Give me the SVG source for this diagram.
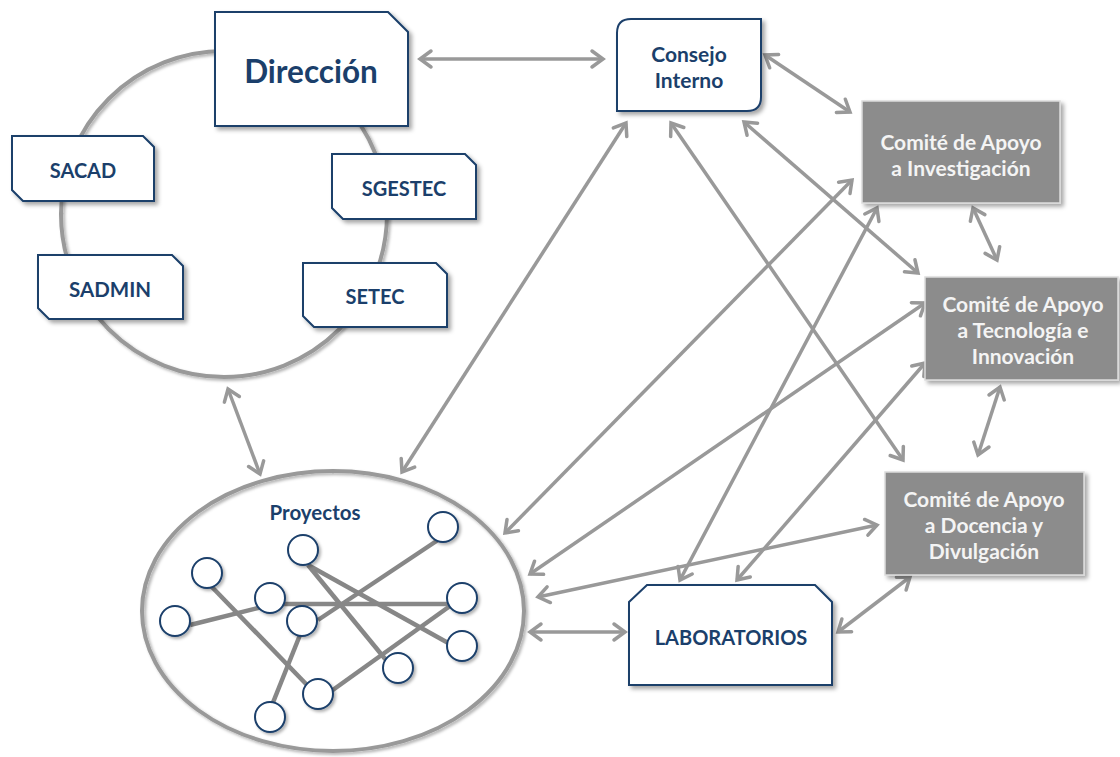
<svg xmlns="http://www.w3.org/2000/svg" width="1120" height="757" viewBox="0 0 1120 757">
<defs>
<filter id="sh" x="-20%" y="-20%" width="140%" height="140%">
<feDropShadow dx="3" dy="3" stdDeviation="2" flood-color="#000" flood-opacity="0.35"/>
</filter>
<filter id="shs" x="-30%" y="-30%" width="160%" height="160%">
<feDropShadow dx="2" dy="2" stdDeviation="1.5" flood-color="#000" flood-opacity="0.3"/>
</filter>
<marker id="ah" markerUnits="userSpaceOnUse" markerWidth="22" markerHeight="22" viewBox="0 0 22 22" refX="16" refY="11" orient="auto-start-reverse">
<path d="M5,3 L16,11 L5,19" fill="none" stroke="#999999" stroke-width="3.5" stroke-linecap="round" stroke-linejoin="miter"/>
</marker>
</defs>
<style>
.nb{fill:#ffffff;stroke:#1b3f6b;stroke-width:2;filter:url(#sh)}
.nt{font-family:Lato,"Open Sans",sans-serif;font-weight:bold;fill:#1b3f6b;text-anchor:middle}
.gb{fill:#8c8c8c;stroke:#dcdcdc;stroke-width:1.5;filter:url(#sh)}
.gt{font-family:Lato,"Open Sans",sans-serif;font-weight:bold;fill:#f4f4f4;text-anchor:middle;font-size:21px}
.ring{fill:none;stroke:#999999;stroke-width:4}
.pl{stroke:#878787;stroke-width:4.5;stroke-linecap:butt}
.pc{fill:#ffffff;stroke:#1b3f6b;stroke-width:2;filter:url(#shs)}
.ar{stroke:#999999;stroke-width:3.5;fill:none;marker-start:url(#ah);marker-end:url(#ah)}
</style>
<rect width="1120" height="757" fill="#ffffff"/>

<g id="direccion-ring">
<ellipse class="ring" cx="224" cy="214" rx="163" ry="163" filter="url(#shs)"/>
</g>

<g id="proyectos">
<ellipse class="ring" cx="333" cy="611" rx="191" ry="140" filter="url(#shs)"/>
<text class="nt" x="315" y="520" font-size="20.5">Proyectos</text>
<g id="proyectos-links">
<line class="pl" x1="190" y1="625" x2="262" y2="607"/>
<line class="pl" x1="280" y1="604" x2="452" y2="604"/>
<line class="pl" x1="210" y1="585" x2="308" y2="686"/>
<line class="pl" x1="438" y1="540" x2="318" y2="620"/>
<line class="pl" x1="308" y1="565" x2="450" y2="644"/>
<line class="pl" x1="308" y1="565" x2="386" y2="660"/>
<line class="pl" x1="450" y1="606" x2="330" y2="692"/>
<line class="pl" x1="300" y1="635" x2="272" y2="705"/>
</g>
<g id="proyectos-nodes">
<circle class="pc" cx="443" cy="527" r="15"/>
<circle class="pc" cx="303" cy="550" r="15"/>
<circle class="pc" cx="207" cy="573" r="15"/>
<circle class="pc" cx="270" cy="598" r="15"/>
<circle class="pc" cx="175" cy="621" r="15"/>
<circle class="pc" cx="302" cy="621" r="15"/>
<circle class="pc" cx="462" cy="598" r="15"/>
<circle class="pc" cx="462" cy="646" r="15"/>
<circle class="pc" cx="398" cy="668" r="15"/>
<circle class="pc" cx="318" cy="694" r="15"/>
<circle class="pc" cx="270" cy="717" r="15"/>
</g>
</g>

<g id="connectors">
<line class="ar" x1="420" y1="59" x2="603" y2="59"/>
<line class="ar" x1="765" y1="55" x2="850" y2="112"/>
<line class="ar" x1="228" y1="389" x2="260" y2="474"/>
<line class="ar" x1="626" y1="123" x2="402" y2="472"/>
<line class="ar" x1="671" y1="123" x2="903" y2="460"/>
<line class="ar" x1="744" y1="122" x2="918" y2="273"/>
<line class="ar" x1="852" y1="180" x2="505" y2="533"/>
<line class="ar" x1="877" y1="208" x2="680" y2="580"/>
<line class="ar" x1="925" y1="303" x2="530" y2="574"/>
<line class="ar" x1="925" y1="363" x2="737" y2="580"/>
<line class="ar" x1="877" y1="525" x2="538" y2="597"/>
<line class="ar" x1="910" y1="577" x2="838" y2="632"/>
<line class="ar" x1="530" y1="632" x2="625" y2="632"/>
<line class="ar" x1="973" y1="208" x2="997" y2="260"/>
<line class="ar" x1="1000" y1="387" x2="978" y2="455"/>
</g>

<g id="direccion">
<polygon class="nb" points="215,12 388,12 408,32 408,126 215,126"/>
<text class="nt" x="311" y="83" font-size="31.5">Dirección</text>
</g>
<g id="sacad">
<polygon class="nb" points="12,136 143,136 154,147 154,201 23,201 12,190"/>
<text class="nt" x="83" y="178" font-size="20">SACAD</text>
</g>
<g id="sadmin">
<polygon class="nb" points="38,255 172,255 183,266 183,319 49,319 38,308"/>
<text class="nt" x="110" y="297" font-size="20.5">SADMIN</text>
</g>
<g id="sgestec">
<polygon class="nb" points="332,154 465,154 476,165 476,219 343,219 332,208"/>
<text class="nt" x="404" y="196" font-size="20">SGESTEC</text>
</g>
<g id="setec">
<polygon class="nb" points="303,263 436,263 447,274 447,327 314,327 303,316"/>
<text class="nt" x="375" y="304" font-size="20">SETEC</text>
</g>
<g id="consejo">
<path class="nb" d="M631,19 H761 V97 Q761,111 747,111 H617 V33 Q617,19 631,19 Z"/>
<text class="nt" x="689" y="62" font-size="21">Consejo</text>
<text class="nt" x="689" y="88" font-size="21">Interno</text>
</g>
<g id="comite-investigacion">
<rect class="gb" x="862" y="101" width="198" height="102"/>
<text class="gt" x="961" y="150">Comité de Apoyo</text>
<text class="gt" x="961" y="176">a Investigación</text>
</g>
<g id="comite-tecnologia">
<rect class="gb" x="925" y="277" width="193" height="103"/>
<text class="gt" x="1023" y="312">Comité de Apoyo</text>
<text class="gt" x="1023" y="338">a Tecnología e</text>
<text class="gt" x="1023" y="364">Innovación</text>
</g>
<g id="comite-docencia">
<rect class="gb" x="885" y="472" width="199" height="103"/>
<text class="gt" x="984" y="507">Comité de Apoyo</text>
<text class="gt" x="984" y="533">a Docencia y</text>
<text class="gt" x="984" y="559">Divulgación</text>
</g>
<g id="laboratorios">
<polygon class="nb" points="629,602 647,585 815,585 832,602 832,685 629,685"/>
<text class="nt" x="731" y="645" font-size="20">LABORATORIOS</text>
</g>
</svg>
